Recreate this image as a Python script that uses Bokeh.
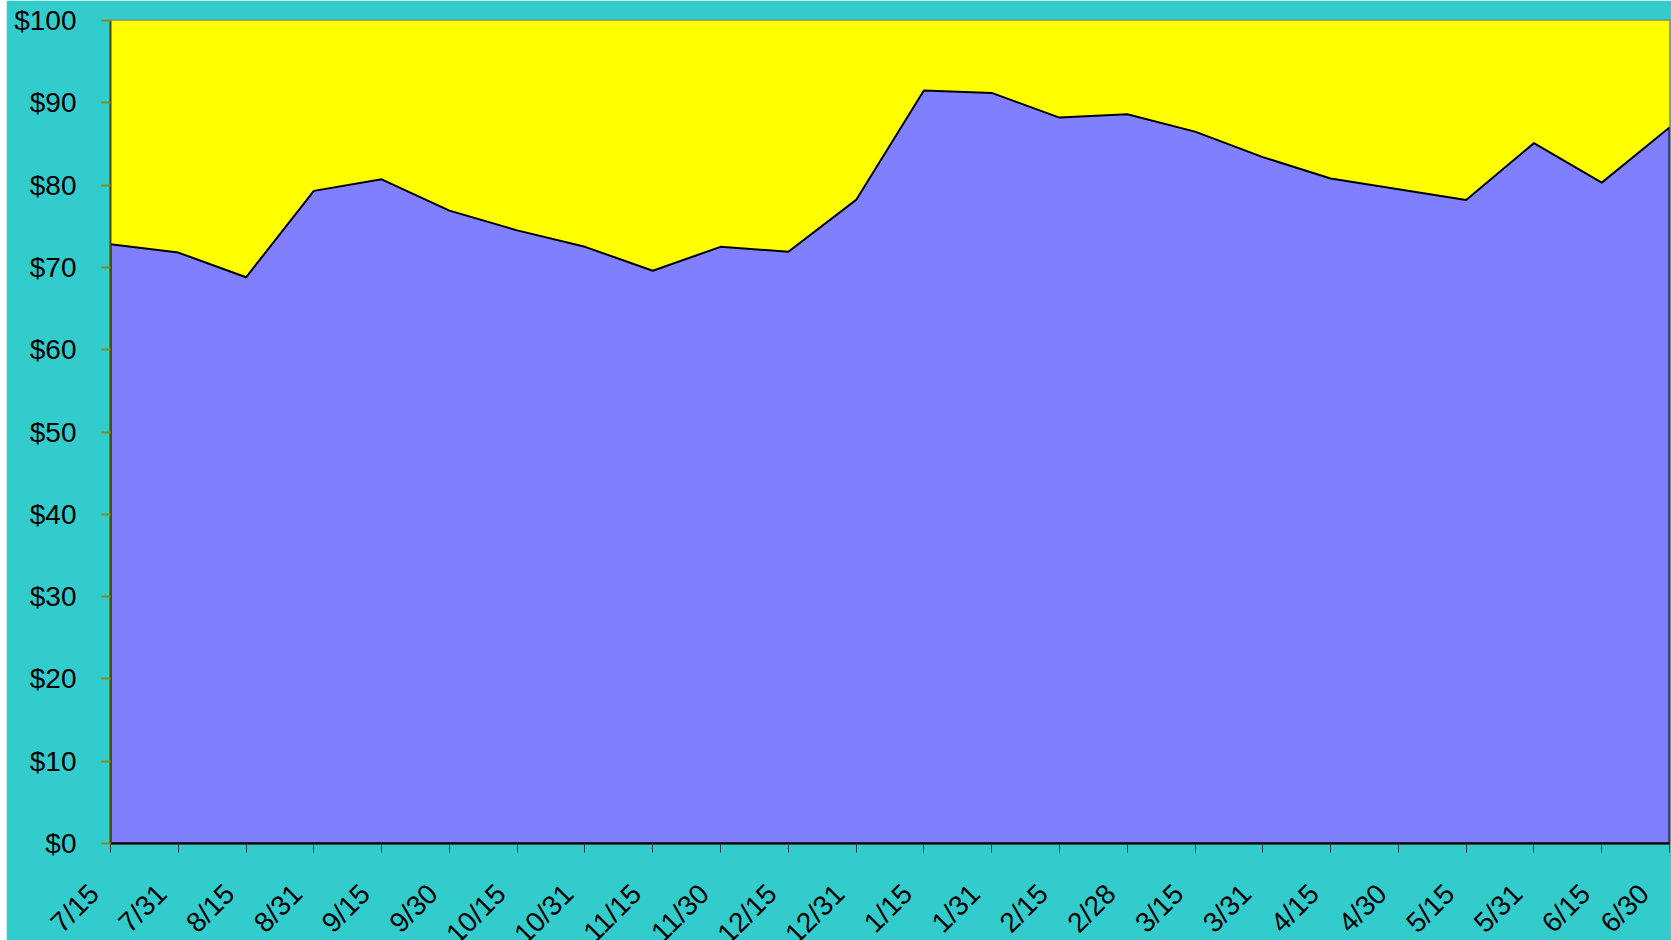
import numpy as np
from bokeh.plotting import figure
from bokeh.models import Range1d, FixedTicker, PrintfTickFormatter, Spacer
from bokeh.layouts import row
from bokeh.embed import file_html
from bokeh.resources import INLINE

try:
    from bokeh.models import GlobalInlineStyleSheet
    page_css = [GlobalInlineStyleSheet(css="html, body { overflow: hidden !important; }")]
except Exception:
    page_css = []

dates = ["7/15", "7/31", "8/15", "8/31", "9/15", "9/30", "10/15", "10/31",
         "11/15", "11/30", "12/15", "12/31", "1/15", "1/31", "2/15", "2/28",
         "3/15", "3/31", "4/15", "4/30", "5/15", "5/31", "6/15", "6/30"]
values = [72.8, 71.8, 68.8, 79.3, 80.7, 76.9, 74.5, 72.5,
          69.6, 72.5, 71.9, 78.2, 91.5, 91.2, 88.2, 88.6,
          86.5, 83.4, 80.8, 79.5, 78.2, 85.1, 80.3, 87.0]
total = 100
y_ticks = [0, 10, 20, 30, 40, 50, 60, 70, 80, 90, 100]

x = list(range(len(dates)))
n = len(dates)

TEAL = "#33CCCC"
font = "Liberation Sans"
NBSP = "\u00a0"

p = figure(frame_width=1559, frame_height=823, output_backend="svg", toolbar_location=None,
           x_range=Range1d(0, n - 1), y_range=Range1d(0, total),
           min_border_left=104, min_border_top=20, min_border_right=2,
           min_border_bottom=97)
p.border_fill_color = TEAL
p.background_fill_color = "#FFFF00"
p.outline_line_color = "#808080"
p.outline_line_width = 2
p.xgrid.visible = False
p.ygrid.visible = False

# remainder (yellow) up to total
p.varea(x=x, y1=values, y2=[total] * n, fill_color="#FFFF00")
# value area (blue) with black outline
xs = x + [x[-1], x[0]]
ys = values + [0, 0]
p.patch(xs, ys, fill_color="#8080FF", line_color="black", line_width=2)

p.yaxis.ticker = FixedTicker(ticks=y_ticks)
p.yaxis.formatter = PrintfTickFormatter(format="$%d")
p.yaxis.major_label_text_font = font
p.yaxis.major_label_text_font_size = "28px"
p.yaxis.major_label_text_color = "black"
p.yaxis.axis_line_color = "#4d4d00"
p.yaxis.axis_line_width = 2
p.yaxis.major_tick_line_color = "#8a8a1a"
p.yaxis.major_tick_line_width = 2
p.yaxis.major_tick_out = 9
p.yaxis.major_tick_in = 0
p.yaxis.minor_tick_line_color = None
p.yaxis.major_label_standoff = 25

p.xaxis.ticker = FixedTicker(ticks=x)
# trailing no-break spaces pull each rotated label back from its tick
p.xaxis.major_label_overrides = {i: d + NBSP * 3 for i, d in enumerate(dates)}
p.xaxis.major_label_orientation = np.pi / 4
p.xaxis.major_label_text_font = font
p.xaxis.major_label_text_font_size = "28px"
p.xaxis.major_label_text_color = "black"
p.xaxis.major_label_standoff = 20
p.xaxis.axis_line_color = "black"
p.xaxis.axis_line_width = 2
p.xaxis.major_tick_line_color = "#333333"
p.xaxis.major_tick_line_width = 1
p.xaxis.major_tick_out = 9
p.xaxis.major_tick_in = 0
p.xaxis.minor_tick_line_color = None

layout = row(Spacer(width=6, height=940, styles={"background-color": "white"}), p,
             stylesheets=page_css)
open("out.html", "w").write(file_html(layout, INLINE))
